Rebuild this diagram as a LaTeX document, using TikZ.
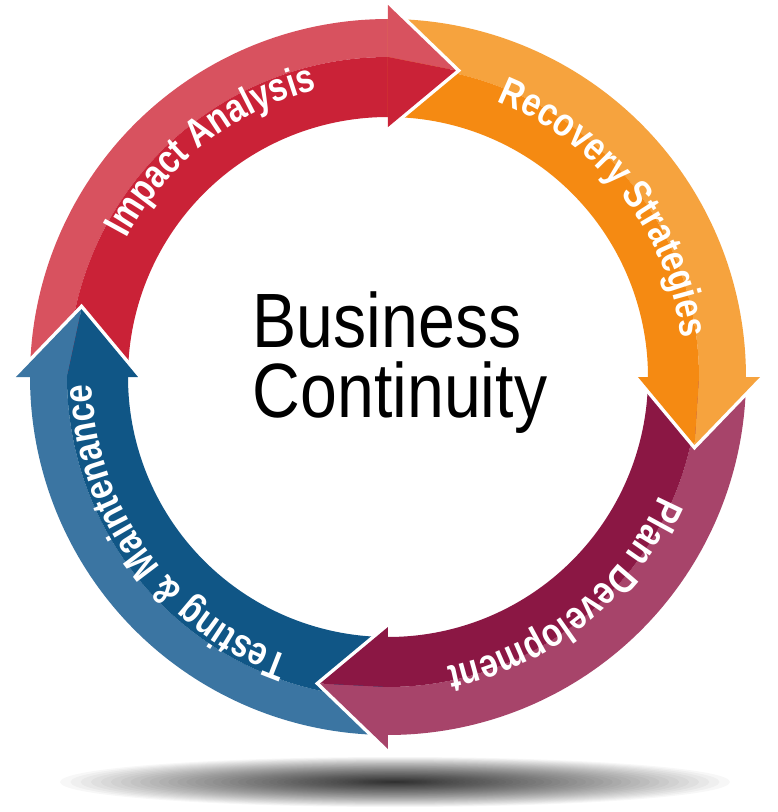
\documentclass[tikz,border=0pt]{standalone}
\usepackage{fontspec}
\setmainfont{Liberation Sans}
\newfontfamily\cenfont[FakeStretch=0.86]{Liberation Sans}
\newfontfamily\labfont[FakeStretch=0.82]{Liberation Sans}
\usetikzlibrary{decorations.text}
\definecolor{redL}{HTML}{D8525F}
\definecolor{redD}{HTML}{CA2237}
\definecolor{orgL}{HTML}{F6A33E}
\definecolor{orgD}{HTML}{F58A12}
\definecolor{purL}{HTML}{A7446A}
\definecolor{purD}{HTML}{8B1744}
\definecolor{bluL}{HTML}{3B75A2}
\definecolor{bluD}{HTML}{105686}
% band: start angle, end angle, split radius, light colour, dark colour
\newcommand\ringband[5]{%
  \fill[#4] (#1:358) arc[start angle=#1, end angle=#2, radius=358] -- (#2:#3) arc[start angle=#2, end angle=#1, radius=#3] -- cycle;
  \fill[#5] (#1:#3) arc[start angle=#1, end angle=#2, radius=#3] -- (#2:260) arc[start angle=#2, end angle=#1, radius=260] -- cycle;
}
% head: base angle, tip angle, split radius, light, dark, name
\newcommand\ringhead[6]{%
  \coordinate (#6o) at (#1:372);
  \coordinate (#6i) at (#1:250);
  \coordinate (#6s) at (#1:#3);
  \coordinate (#6t) at (#2:314);
  \draw[gapline] (#6o) -- (#6t) -- (#6i);
  \fill[#4] (#6o) -- (#6t) -- (#6s) -- cycle;
  \fill[#5] (#6i) -- (#6t) -- (#6s) -- cycle;
}
% label: start angle, end angle, text
\newcommand\ringlabel[3]{%
  \path[decorate, decoration={text along path, text align=center, text color=white,
    text={|\labfont\bfseries\fontsize{40}{40}\selectfont|#3}}]
    (#1:296) arc[start angle=#1, end angle=#2, radius=296];
}
\begin{document}
\begin{tikzpicture}[x=1pt,y=1pt,
  gapline/.style={white, line width=7, line join=miter, miter limit=10},
  shadowlayer/.style={fill=black, fill opacity=0.03, draw=none},
  centertext/.style={anchor=base, inner sep=0, font=\cenfont\fontsize{77}{77}\selectfont}]
\useasboundingbox[fill=white] (-388,-435) rectangle (390,377);
% ground shadow (stacked translucent ellipses)
\foreach \k in {1,...,48}{
  \fill[shadowlayer] (7,-405) ellipse[x radius={335*(\k/48)^1.5}, y radius={25*(\k/48)^1.5}];
}
% bands
\ringband{180}{89.5}{320}{redL}{redD}
\ringband{90}{-0.5}{311}{orgL}{orgD}
\ringband{0}{-90.5}{310}{purL}{purD}
\ringband{270}{179.5}{321}{bluL}{bluD}
% heads
\ringhead{90}{77.5}{320}{redL}{redD}{hr}
\ringhead{0}{-12.5}{311}{orgL}{orgD}{ho}
\ringhead{-90}{-102.5}{310}{purL}{purD}{hp}
\ringhead{180}{167.5}{321}{bluL}{bluD}{hb}
% labels
\ringlabel{198}{58}{Impact Analysis}
\ringlabel{108}{-32}{Recovery Strategies}
\ringlabel{19}{-121}{Plan Development}
\ringlabel{286}{146}{Testing {\&} Maintenance}
% centre
\node[centertext] (bus) at (-1,30) {Business};
\node[centertext] (con) at (12,-40) {Continuity};
\end{tikzpicture}
\end{document}
